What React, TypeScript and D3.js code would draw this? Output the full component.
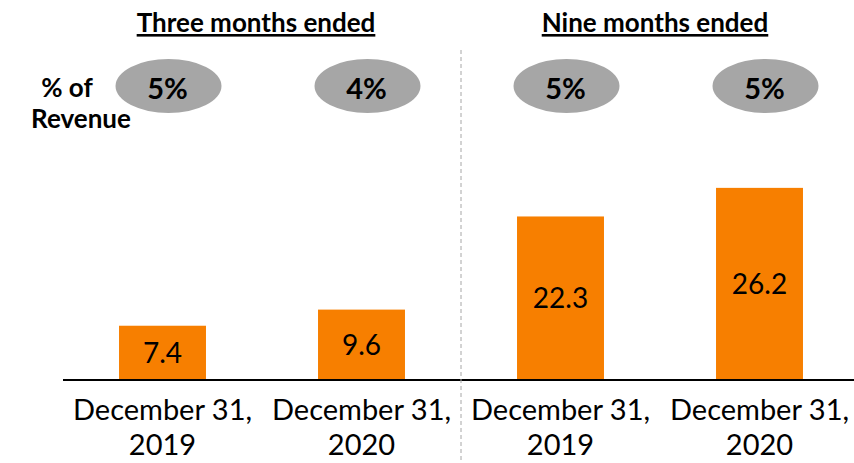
import React, { useEffect, useRef } from 'react';
import * as d3 from 'd3';

// chart data
const periods = ['q3_2019', 'q3_2020', 'ytd_2019', 'ytd_2020'];
const values = [7.4, 9.6, 22.3, 26.2];
const pctOfRevenue = ['5%', '4%', '5%', '5%'];
const xLabelLine1 = ['December 31,', 'December 31,', 'December 31,', 'December 31,'];
const xLabelLine2 = ['2019', '2020', '2019', '2020'];
const groupTitles = ['Three months ended', 'Nine months ended'];

const W = 854;
const H = 463;
const FONT = 'Lato, "Open Sans", sans-serif';

export default function App() {
  const ref = useRef<SVGSVGElement>(null);

  useEffect(() => {
    const svg = d3.select(ref.current);
    svg.selectAll('*').remove();

    const baseline = 380;

    const x = d3
      .scaleBand<string>()
      .domain(periods)
      .range([63, 859])
      .paddingInner(0.563)
      .paddingOuter(0.2815);
    const y = d3.scaleLinear().domain([0, 30]).range([baseline, 160]);
    const cx = (i: number) => (x(periods[i]) as number) + x.bandwidth() / 2;

    const rows = periods.map((p, i) => ({ p, v: values[i], pct: pctOfRevenue[i], i }));

    // bars
    svg
      .append('g')
      .selectAll('rect')
      .data(rows)
      .enter()
      .append('rect')
      .attr('x', d => x(d.p) as number)
      .attr('y', d => y(d.v))
      .attr('width', x.bandwidth())
      .attr('height', d => baseline - y(d.v))
      .attr('fill', '#F77F00');

    // value labels in middle of bars
    svg
      .append('g')
      .selectAll('text')
      .data(rows)
      .enter()
      .append('text')
      .attr('x', d => cx(d.i))
      .attr('y', d => (y(d.v) + baseline) / 2)
      .attr('dy', '0.36em')
      .attr('text-anchor', 'middle')
      .attr('font-family', FONT)
      .style('font-size', '28px')
      .attr('fill', '#000')
      .text(d => d.v.toFixed(1));

    // baseline axis
    svg
      .append('line')
      .attr('x1', 63)
      .attr('x2', W)
      .attr('y1', baseline)
      .attr('y2', baseline)
      .attr('stroke', '#000')
      .attr('stroke-width', 2);

    // dashed separator between groups
    const sepX = (cx(1) + cx(2)) / 2;
    svg
      .append('line')
      .attr('x1', sepX)
      .attr('x2', sepX)
      .attr('y1', 50)
      .attr('y2', H)
      .attr('stroke', '#A6A6A6')
      .attr('stroke-width', 1)
      .attr('stroke-dasharray', '4,3');

    // x labels (two lines)
    const xl = svg
      .append('g')
      .selectAll('text')
      .data(rows)
      .enter()
      .append('text')
      .attr('text-anchor', 'middle')
      .attr('font-family', FONT)
      .style('font-size', '29px')
      .attr('fill', '#000');
    xl.append('tspan').attr('x', d => cx(d.i)).attr('y', 420).text(d => xLabelLine1[d.i]);
    xl.append('tspan').attr('x', d => cx(d.i)).attr('y', 455).text(d => xLabelLine2[d.i]);

    // % of revenue ellipses
    const pg = svg.append('g');
    pg.selectAll('ellipse')
      .data(rows)
      .enter()
      .append('ellipse')
      .attr('cx', d => cx(d.i) + 6)
      .attr('cy', 86)
      .attr('rx', 53)
      .attr('ry', 27)
      .attr('fill', '#A6A6A6');
    pg.selectAll('text')
      .data(rows)
      .enter()
      .append('text')
      .attr('x', d => cx(d.i) + 5)
      .attr('y', 99)
      .attr('text-anchor', 'middle')
      .attr('font-family', FONT)
      .attr('font-weight', 'bold')
      .style('font-size', '29px')
      .attr('fill', '#000')
      .text(d => d.pct);

    // row label
    svg
      .append('text')
      .attr('x', 67)
      .attr('y', 97)
      .attr('text-anchor', 'middle')
      .attr('font-family', FONT)
      .attr('font-weight', 'bold')
      .style('font-size', '26px')
      .text('% of');
    svg
      .append('text')
      .attr('x', 81)
      .attr('y', 128)
      .attr('text-anchor', 'middle')
      .attr('font-family', FONT)
      .attr('font-weight', 'bold')
      .style('font-size', '26px')
      .text('Revenue');

    // group titles, underlined
    const titleX = [(cx(0) + cx(1)) / 2 - 6, (cx(2) + cx(3)) / 2 - 5];
    groupTitles.forEach((t, i) => {
      svg
        .append('text')
        .attr('x', titleX[i])
        .attr('y', 32)
        .attr('text-anchor', 'middle')
        .attr('font-family', FONT)
        .attr('font-weight', 'bold')
        .style('font-size', '26px')
        .style('text-decoration', 'underline')
        .text(t);
    });
  }, []);

  return (
    <svg
      ref={ref}
      width={W}
      height={H}
      style={{ position: 'absolute', left: 0, top: 0, background: '#fff' }}
    />
  );
}
